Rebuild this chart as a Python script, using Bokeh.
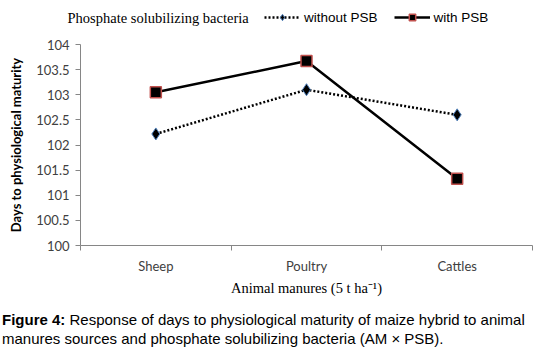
from bokeh.plotting import figure
from bokeh.models import (Range1d, FixedTicker, NumeralTickFormatter, Legend, LegendItem,
                          Label, ColumnDataSource, Div)
from bokeh.layouts import column
from bokeh.embed import file_html
from bokeh.resources import INLINE

categories = ["Sheep", "Poultry", "Cattles"]
without_psb = [102.22, 103.1, 102.6]
with_psb = [103.05, 103.67, 101.33]
y_ticks = [100, 100.5, 101, 101.5, 102, 102.5, 103, 103.5, 104]

xpos = [i + 0.5 for i in range(len(categories))]
src = ColumnDataSource(dict(x=xpos, wo=without_psb, w=with_psb))

WO_LINE = dict(line_color="black", line_width=2.5, line_dash="2 2")
WO_MARK = dict(marker="diamond", size=12, fill_color="black", line_color="#4f81bd", line_width=1)
W_LINE = dict(line_color="black", line_width=2.5)
W_MARK = dict(marker="square", size=11, fill_color="black", line_color="#c0504d", line_width=1.5)

# ---------- header with legend (series drawn out of view, only legend shows) ----------
hdr = figure(width=542, height=34, output_backend="svg", toolbar_location=None,
             x_range=Range1d(0, 542), y_range=Range1d(0, 34),
             min_border=0, min_border_left=0, min_border_right=0,
             min_border_top=0, min_border_bottom=0)
try:
    hdr.frame_align = False
except Exception:
    pass
hdr.axis.visible = False
hdr.grid.visible = False
hdr.outline_line_color = None
h1 = hdr.line("x", "wo", source=src, **WO_LINE)
h2 = hdr.scatter("x", "wo", source=src, **WO_MARK)
h3 = hdr.line("x", "w", source=src, **W_LINE)
h4 = hdr.scatter("x", "w", source=src, **W_MARK)
legend = Legend(items=[LegendItem(label="without PSB", renderers=[h1, h2]),
                       LegendItem(label="with PSB", renderers=[h3, h4])],
                orientation="horizontal", location=(264, 9),
                padding=0, margin=0, spacing=16, glyph_width=36, glyph_height=16,
                label_standoff=4, border_line_color=None, background_fill_alpha=0,
                label_text_font="Liberation Sans", label_text_font_size="13.5px",
                label_text_color="black")
hdr.add_layout(legend, "center")
hdr.add_layout(Label(x=67, y=17, text="Phosphate solubilizing bacteria",
                     text_font="Liberation Serif", text_font_size="14.5px",
                     text_baseline="middle", text_color="black"))

# ---------- main chart ----------
p = figure(width=542, height=276, output_backend="svg", toolbar_location=None,
           x_range=Range1d(0, 3), y_range=Range1d(100, 104),
           min_border_left=80, min_border_right=10, min_border_top=10, min_border_bottom=65)
try:
    p.frame_align = False
except Exception:
    pass
p.outline_line_color = None
p.xgrid.visible = False
p.ygrid.visible = False

p.line("x", "wo", source=src, **WO_LINE)
p.scatter("x", "wo", source=src, **WO_MARK)
p.line("x", "w", source=src, **W_LINE)
p.scatter("x", "w", source=src, **W_MARK)

ya = p.yaxis[0]
ya.ticker = FixedTicker(ticks=y_ticks)
ya.formatter = NumeralTickFormatter(format="0.[0]")
ya.axis_line_color = "#868686"
ya.major_tick_line_color = "#868686"
ya.major_tick_out = 5
ya.major_tick_in = 0
ya.minor_tick_line_color = None
ya.major_label_text_font = "Lato"
ya.major_label_text_font_size = "13px"
ya.major_label_text_color = "#404040"
ya.major_label_standoff = 6
ya.axis_label = "Days to physiological maturity"
ya.axis_label_text_font = "Lato"
ya.axis_label_text_font_style = "bold"
ya.axis_label_text_font_size = "13px"
ya.axis_label_text_color = "black"
ya.axis_label_standoff = 9

xa = p.xaxis[0]
xa.ticker = FixedTicker(ticks=xpos, minor_ticks=[0, 1, 2, 3])
xa.major_label_overrides = {x: c for x, c in zip(xpos, categories)}
xa.axis_line_color = "#868686"
xa.major_tick_line_color = None
xa.minor_tick_line_color = "#868686"
xa.minor_tick_out = 5
xa.minor_tick_in = 0
xa.major_label_text_font = "Lato"
xa.major_label_text_font_size = "13px"
xa.major_label_text_color = "#404040"
xa.major_label_standoff = 6
xa.axis_label = "Animal manures (5 t ha\u207b\u00b9)"
xa.axis_label_text_font = "Liberation Serif"
xa.axis_label_text_font_style = "normal"
xa.axis_label_text_font_size = "14.5px"
xa.axis_label_text_color = "black"
xa.axis_label_standoff = 3

# ---------- caption ----------
cap = Div(text="<b>Figure 4:</b> Response of days to physiological maturity of maize hybrid to animal<br>"
               "manures sources and phosphate solubilizing bacteria (AM \u00d7 PSB).",
          width=542, height=45, margin=0,
          styles={"font-family": "'Liberation Sans', Arial, sans-serif", "font-size": "15px",
                  "line-height": "19px", "color": "black", "padding-left": "2px",
                  "white-space": "nowrap"})

layout = column(hdr, p, cap, spacing=0)
open("out.html", "w").write(file_html(layout, INLINE))
